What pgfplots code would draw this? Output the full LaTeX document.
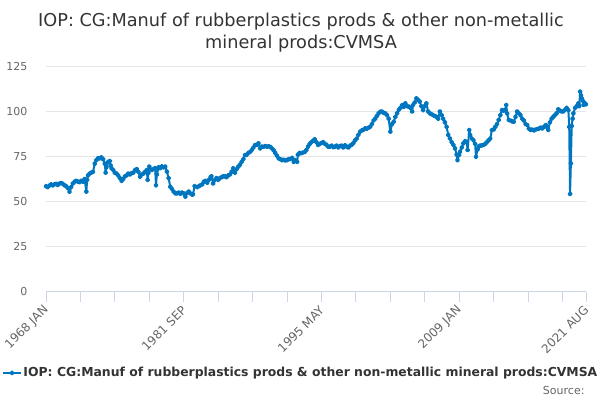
\documentclass[border=0pt]{standalone}
\usepackage{fontspec}
\setmainfont{DejaVu Sans}
\usepackage{pgfplots}
\pgfplotsset{compat=1.18}
\usepackage{pgfplotstable}
\definecolor{serblue}{RGB}{0,118,192}
\definecolor{gridc}{RGB}{230,230,230}
\definecolor{axisc}{RGB}{204,214,235}
\definecolor{labc}{RGB}{102,102,102}
\definecolor{titc}{RGB}{51,51,51}
\pgfplotstableread{
m v
0 58.5
2 58
4 58.8
6 59.5
8 59
10 59.5
12 59.8
14 59.2
16 60
18 60.3
20 59.8
22 59
24 58.5
26 57.5
28 55.5
30 58
32 60
34 61
36 61.5
38 61
40 60.8
42 61.5
44 61
46 62.5
48 55.5
49 62
50 64.5
52 65.5
54 66
56 66.5
58 71
60 73
62 74
64 74
66 74.5
68 73.5
70 71
71 66
72 69
74 72
76 72.5
77 70
78 68.5
80 67.5
82 66
84 65.5
86 64.5
88 63
90 61.5
92 62.5
94 64
96 64.5
98 65.5
100 65
102 65.8
104 66
106 67.5
108 68
110 66.5
112 63.8
114 65
116 65.5
118 66.5
120 67.5
121 62
122 66
123 69.4
124 68
126 67.5
128 68
130 68.5
131 59
132 65
134 69
136 68.5
138 69.5
140 69
142 69.4
144 66.6
146 63
148 58.2
150 57
152 55.5
154 54.5
156 54.5
158 55
160 54.2
162 55
164 54.5
166 52.7
168 54.8
170 55.5
172 54.5
174 53.8
175 54
177 58.5
180 58
182 58.5
184 59
186 59.5
188 61
190 61.5
192 60.5
194 62
196 63.5
197 64
199 60
201 62
203 63
205 62
207 63
209 63.5
211 64
213 64
215 63.5
217 64.5
219 65
221 66.5
223 68.5
225 66
227 68
229 69.4
231 70.5
233 72
235 73.5
237 75.8
239 76
241 77
243 77.5
245 78.6
247 80
249 81.4
251 81.5
253 82.3
255 79.5
257 80.5
259 80.4
261 80.8
263 80.5
265 80.6
267 80.4
269 79.5
271 78.5
273 77
275 75.5
277 74
279 73.5
281 73
283 73.2
285 72.8
287 73
289 73.5
291 73.6
293 74.2
295 72
297 73
299 72
300 76
302 77
304 76.8
306 77.2
308 77.5
310 78.6
312 80.5
314 82
316 83
318 83.8
320 84.5
322 83
324 81.4
326 82
328 82.5
330 83
332 82
334 81.5
336 80.5
338 80.5
340 81
342 80.2
344 80.5
346 81
348 80
350 80.8
352 81
354 80
356 81.2
358 80.5
360 80
362 81
364 81.5
366 82.5
368 84
370 85
372 87
374 88.8
376 89.5
378 89.8
380 90.6
382 90.5
384 91
386 91.5
388 93
390 95
392 96
394 97.5
396 99
398 99.9
400 100
402 99.2
404 99
406 98
408 96
410 88.8
412 93
414 94.3
416 97
418 99
420 101
422 102
424 103.5
426 102.5
428 104.5
430 103
432 102.7
434 102
436 100
437 103.6
439 105
441 107.3
443 106.5
445 105.5
447 103
449 100.8
451 103
453 104.5
455 100
457 99
459 98.5
461 98
463 97.5
465 97
467 96
469 100
471 98
473 96
475 94
477 91.5
479 87
481 85
483 83
485 81.5
487 79.5
489 76
490 73
492 76
493 77.7
495 80
497 82.3
499 83.5
501 83
502 78.6
504 89.7
505 87
507 85
509 84
511 82
512 74.9
514 79
515 80.5
517 81
519 81.2
521 81.4
523 82
525 83
527 84
529 85
531 89.7
533 90
535 91.5
537 93
539 95.3
541 98
543 100.8
545 100.5
547 101
548 103.6
549 99
551 95.3
553 95
555 94.5
557 94.3
559 97
561 100
563 99
565 98
567 96
569 95
571 93
573 92.5
575 90.5
577 89.7
579 90
581 89.5
583 90
585 90.3
587 90.5
589 91
591 90.6
593 91.5
595 92.5
597 91
598 89.7
600 94
602 96
604 97
606 98
608 99
610 101.2
612 100.5
614 100
616 100
618 101
620 102
622 100.8
623 91.5
624 54.2
625 71.2
626 92
627 96
628 99
630 102
632 103
634 104.5
635 103
636 111
637 109
638 107.3
639 106
640 103.6
641 105
643 104
}\datatable
\begin{document}
\begin{tikzpicture}
\useasboundingbox (0pt,0pt) rectangle (600pt,400pt);
\node[font=\fontsize{17.7}{21}\selectfont, text=titc] at (301pt,378pt) {IOP: CG:Manuf of rubberplastics prods \& other non-metallic};
\node[font=\fontsize{17.7}{21}\selectfont, text=titc] at (301pt,356pt) {mineral prods:CVMSA};
\begin{axis}[
  at={(46pt,108.5pt)}, anchor=south west,
  scale only axis, width=540pt, height=225pt,
  xmin=0, xmax=643, ymin=0, ymax=125,
  axis x line*=bottom, axis y line*=left,
  x axis line style={draw=axisc, line width=0.8pt},
  y axis line style={draw=none},
  xtick={0,164,328,492,643},
  xticklabels={1968 JAN,1981 SEP,1995 MAY,2009 JAN,2021 AUG},
  minor xtick={41,82,123,205,246,287,369,410,451,533,574,615},
  ytick={0,25,50,75,100,125},
  ymajorgrids, grid style={draw=gridc, line width=0.8pt},
  tick align=outside,
  x tick style={draw=axisc, line width=0.8pt},
  major tick length=10pt, minor tick length=10pt,
  y tick style={draw=none},
  /pgf/number format/assume math mode=true,
  tick label style={font=\fontsize{11}{13}\selectfont, text=labc},
  x tick label style={font=\fontsize{12}{14}\selectfont, rotate=45, anchor=east, xshift=-1pt, yshift=-5pt},
  y tick label style={xshift=-5pt},
  legend style={at={(axis description cs:0.472,-0.362)}, anchor=center, draw=none, fill=none,
    font=\bfseries\fontsize{12.4}{14}\selectfont, text=titc},
  clip=false,
]
\addplot[color=serblue, line width=2pt, mark=*, mark size=1.5pt, line join=round] table[x=m,y=v] {\datatable};
\addlegendentry{IOP: CG:Manuf of rubberplastics prods \& other non-metallic mineral prods:CVMSA}
\end{axis}
\node[anchor=east, font=\fontsize{11}{13}\selectfont, text=labc] at (588pt,10pt) {Source:};
\end{tikzpicture}
\end{document}
